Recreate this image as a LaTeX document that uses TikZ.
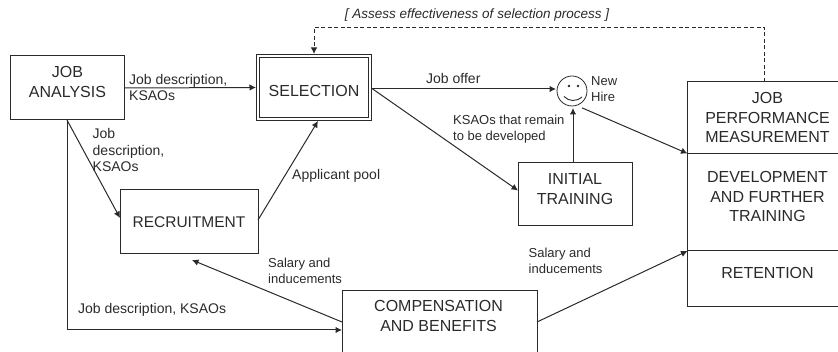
\documentclass[tikz,border=0pt]{standalone}
\usepackage{fontspec}
\setmainfont{Liberation Sans}
\usetikzlibrary{arrows.meta,calc}
\definecolor{ink}{HTML}{2A2A2A}
\tikzset{
  box/.style={draw=ink,line width=1pt,rectangle,outer sep=0pt,inner sep=0pt,fill=none},
  boxtext/.style={text=ink,font=\fontsize{16}{19.3}\selectfont,align=center,inner sep=0pt},
  lab/.style={text=ink,font=\fontsize{13}{16.3}\selectfont,align=left,anchor=west,inner sep=0pt},
  wide/.style={font=\fontsize{14}{16.3}\selectfont},
  conn/.style={draw=ink,line width=1pt,-{Latex[length=6.5pt,width=6.5pt]}}
}
\begin{document}
\begin{tikzpicture}[x=1pt,y=-1pt]
\useasboundingbox (0,0) rectangle (838,352);
% boxes
\node[box,minimum width=114pt,minimum height=64pt,label={[boxtext,yshift=6pt]center:{JOB\\ANALYSIS}}] (ja) at (67.5,88) {};
\node[box,draw=ink,line width=1.2pt,double=white,double distance=1.5pt,outer sep=2pt,minimum width=112pt,minimum height=63pt,label={[boxtext,yshift=-3pt]center:{SELECTION}}] (sel) at (314,87.5) {};
\node[box,minimum width=138pt,minimum height=64pt,label={[boxtext,font=\fontsize{15.5}{19.3}\selectfont]center:{RECRUITMENT}}] (rec) at (189,222) {};
\node[box,minimum width=114pt,minimum height=63pt,label={[boxtext,yshift=5.5pt]center:{INITIAL\\TRAINING}}] (init) at (575,194.5) {};
\node[box,minimum width=195pt,minimum height=64pt,label={[boxtext,xshift=-1pt,yshift=7pt]center:{COMPENSATION\\AND BENEFITS}}] (comp) at (439.5,323) {};
\node[box,minimum width=160pt,minimum height=71.5pt,label={[boxtext]center:{JOB\\PERFORMANCE\\MEASUREMENT}}] (jp) at (767.5,117.75) {};
\node[box,minimum width=160pt,minimum height=97.5pt,label={[boxtext,yshift=5.5pt]center:{DEVELOPMENT\\AND FURTHER\\TRAINING}}] (dev) at (767.5,202.25) {};
\node[box,minimum width=160pt,minimum height=56pt,label={[boxtext,yshift=6pt]center:{RETENTION}}] (ret) at (767.5,279) {};
% smiley
\node[circle,draw=ink,line width=0.8pt,minimum size=30pt,inner sep=0pt,outer sep=1pt] (smiley) at (572,91) {};
\fill[ink] ([shift={(-3,-5)}]smiley.center) circle (1.3pt);
\fill[ink] ([shift={(6,-5)}]smiley.center) circle (1.3pt);
\draw[ink,line width=0.9pt] ([shift={(-8,5.5)}]smiley.center) .. controls ([shift={(-3,10.5)}]smiley.center) and ([shift={(4,11)}]smiley.center) .. ([shift={(10,6)}]smiley.center);
% connectors
\draw[conn] (ja.east) -- (sel.west);
\draw[conn] ([xshift=-0.5pt]ja.south) -- ([yshift=4pt]rec.west);
\draw[conn] ([xshift=-0.5pt]ja.south) |- ([yshift=-7pt]comp.west);
\draw[conn] ([yshift=2pt]rec.east) -- ([xshift=4pt]sel.south);
\draw[conn] ([yshift=1pt]comp.west) -- ([shift={(3pt,-6pt)}]rec.south);
\draw[conn] ([yshift=1pt]comp.east) -- (ret.north west);
\draw[conn] ([yshift=-1.5pt]sel.east) -- ([yshift=2pt]smiley.west);
\draw[conn] ([yshift=-1pt]sel.east) -- ([yshift=4pt]init.west);
\draw[conn] ([xshift=-2pt]init.north) -- ([xshift=1pt,yshift=-1pt]smiley.south);
\draw[conn] ([shift={(2pt,-3pt)}]smiley.-60) -- (jp.south west);
\draw[conn,dashed,dash pattern=on 4pt off 2.5pt] ([xshift=-3pt]jp.north) -- ++(0,-54.5) -| (sel.north);
% labels
\node[lab,wide] (l1) at (129,87.5) {Job description,\\KSAOs};
\node[lab,wide] (l2) at (92.5,150) {Job\\description,\\KSAOs};
\node[lab,wide] (l3) at (292,175.5) {Applicant pool};
\node[lab] (l4) at (268,271) {Salary and\\inducements};
\node[lab,wide] (l5) at (78,310) {Job description, KSAOs};
\node[lab,wide] (l6) at (426,79) {Job offer};
\node[lab] (l7) at (591,89) {New\\Hire};
\node[lab] (l8) at (453,129) {KSAOs that remain\\to be developed};
\node[lab] (l9) at (528.5,261) {Salary and\\inducements};
\node[lab,anchor=center,font=\fontsize{13.5}{16}\selectfont\itshape] (l10) at (477,15) {[ Assess effectiveness of selection process ]};
\end{tikzpicture}
\end{document}
